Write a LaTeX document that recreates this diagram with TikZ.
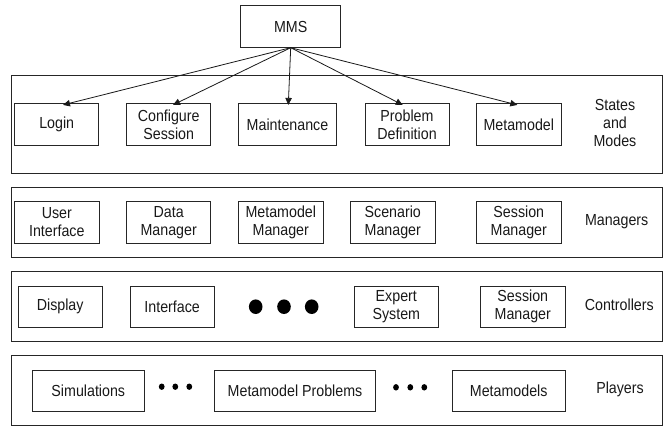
\documentclass[tikz,border=0pt]{standalone}
\usepackage{fontspec}
\setmainfont{Liberation Sans}[FakeStretch=0.89]
\usetikzlibrary{arrows.meta}
\begin{document}
\begin{tikzpicture}[x=1pt,y=-1pt,
  line width=0.8pt,
  every node/.style={font=\fontsize{16}{18}\selectfont, text=black!90},
  box/.style={draw=black!85, rectangle, inner sep=0pt, align=center, minimum height=42pt},
  layer/.style={draw=black!85, rectangle, inner sep=0pt},
  lbl/.style={align=center, inner sep=0pt},
  arr/.style={draw=black!90, -{Triangle[length=7pt,width=6.5pt]}},
  bigdot/.style={fill=black},
]
\useasboundingbox (0,0) rectangle (667,426);
% layer frames
\node[layer, minimum width=650.6pt, minimum height=97.3pt] (states) at (337,124.35) {};
\node[layer, minimum width=650.6pt, minimum height=70.4pt] (managers) at (337,222.5) {};
\node[layer, minimum width=650.6pt, minimum height=70.7pt] (controllers) at (337,306.35) {};
\node[layer, minimum width=650.6pt, minimum height=69.3pt] (players) at (337,390.35) {};
% top
\node[box, minimum width=100pt, minimum height=41.6pt] (mms) at (290.7,26.5) {MMS};
% states and modes
\node[box, minimum width=84pt] (login) at (56.7,124.3) {Login};
\node[box, minimum width=84pt] (config) at (168.7,124.3) {Configure\\Session};
\node[box, minimum width=98.4pt] (maint) at (287.5,124.3) {Maintenance};
\node[box, minimum width=84pt] (probdef) at (407,124.3) {Problem\\Definition};
\node[box, minimum width=84.3pt] (meta) at (518.8,124.3) {Metamodel};
\node[lbl] (lstates) at (615,122.7) {States\\and\\Modes};
% managers
\node[box, minimum width=84.3pt] (ui) at (56.8,222.5) {User\\Interface};
\node[box, minimum width=84pt] (dm) at (168.7,222.5) {Data\\Manager};
\node[box, minimum width=85pt] (mm) at (280.8,222.5) {Metamodel\\Manager};
\node[box, minimum width=84.3pt] (sm) at (392.8,222.5) {Scenario\\Manager};
\node[box, minimum width=84.3pt] (sessm) at (518.8,222.5) {Session\\Manager};
\node[lbl] (lmanagers) at (616.7,221.7) {Managers};
% controllers
\node[box, minimum width=84.3pt, minimum height=41.3pt] (disp) at (60.2,306.7) {Display};
\node[box, minimum width=84.3pt, minimum height=41.3pt] (intf) at (172.2,306.7) {Interface};
\fill[bigdot] (255.7,306.7) ellipse [x radius=6.8, y radius=7.3];
\fill[bigdot] (284,306.7) ellipse [x radius=6.8, y radius=7.3];
\fill[bigdot] (311.7,306.7) ellipse [x radius=6.8, y radius=7.3];
\node[box, minimum width=84pt, minimum height=41.3pt] (expert) at (396.3,306.7) {Expert\\System};
\node[box, minimum width=84.3pt, minimum height=41.3pt] (sessc) at (522.8,306.7) {Session\\Manager};
\node[lbl] (lcontrollers) at (619.3,305) {Controllers};
% players
\node[box, minimum width=112pt, minimum height=41.7pt] (sim) at (88.3,390.8) {Simulations};
\fill[bigdot] (161.7,386.7) ellipse [x radius=2.9, y radius=3.2];
\fill[bigdot] (175.3,386.7) ellipse [x radius=2.9, y radius=3.2];
\fill[bigdot] (189.3,386.7) ellipse [x radius=2.9, y radius=3.2];
\node[box, minimum width=161.4pt, minimum height=41.7pt] (mp) at (295,390.8) {Metamodel Problems};
\fill[bigdot] (396,387.3) ellipse [x radius=2.9, y radius=3.2];
\fill[bigdot] (410.3,387.3) ellipse [x radius=2.9, y radius=3.2];
\fill[bigdot] (424.3,387.3) ellipse [x radius=2.9, y radius=3.2];
\node[box, minimum width=112.7pt, minimum height=41.7pt] (mms2) at (508.7,390.8) {Metamodels};
\node[lbl] (lplayers) at (620,389.3) {Players};
% arrows
\draw[arr] (mms.south) -- ([xshift=6.3pt,yshift=-2pt]login.north);
\draw[arr] (mms.south) -- ([xshift=4.3pt,yshift=-2pt]config.north);
\draw[arr] (mms.south) -- ([xshift=0.8pt,yshift=-2pt]maint.north);
\draw[arr] (mms.south) -- ([xshift=-4.3pt,yshift=-2pt]probdef.north);
\draw[arr] (mms.south) -- ([xshift=-1.5pt,yshift=-2pt]meta.north);
\end{tikzpicture}
\end{document}
